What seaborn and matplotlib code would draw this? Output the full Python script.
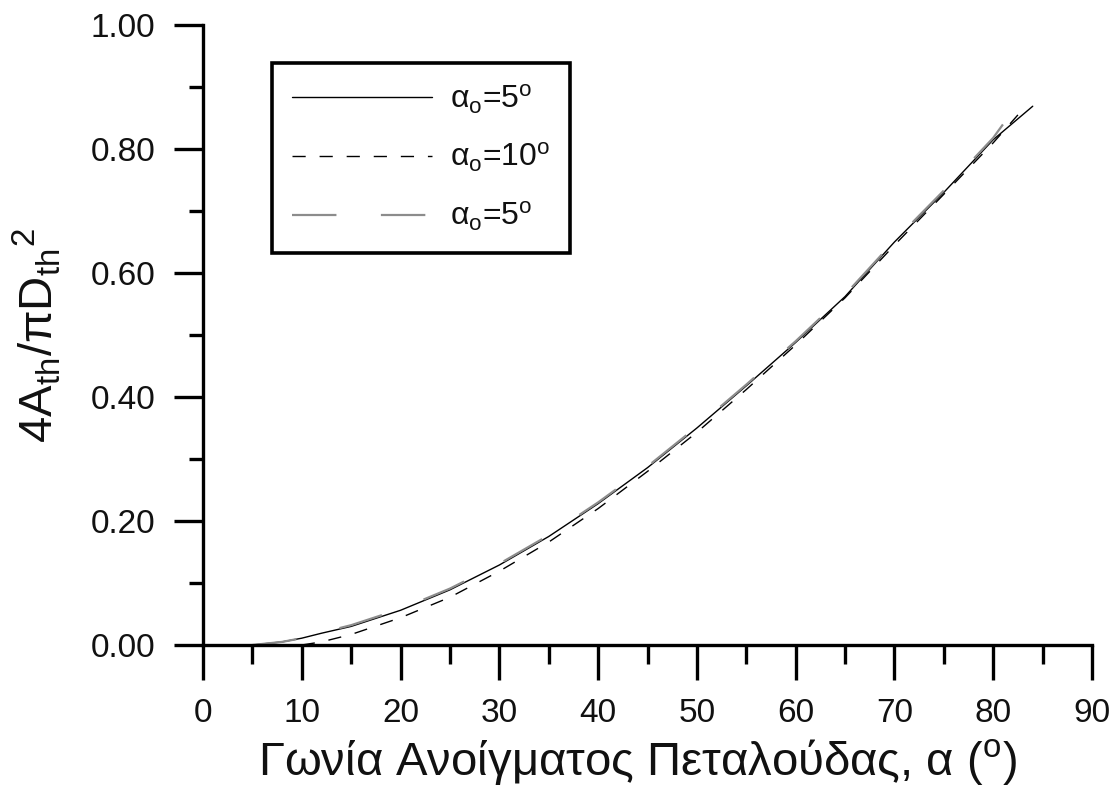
import matplotlib
matplotlib.use("Agg")
import matplotlib.pyplot as plt
from matplotlib.ticker import MultipleLocator, FormatStrFormatter
import seaborn as sns

# Throat area ratio vs. butterfly opening angle
angle_a5 = [5, 8, 10, 12, 15, 20, 25, 30, 35, 40, 45, 50, 55, 60, 65, 70, 75, 80, 84]
ratio_a5 = [0.000, 0.005, 0.011, 0.019, 0.030, 0.056, 0.089, 0.129, 0.175, 0.228,
            0.286, 0.350, 0.418, 0.488, 0.562, 0.650, 0.730, 0.815, 0.869]

angle_a10 = [10, 12, 15, 20, 25, 30, 35, 40, 45, 50, 55, 60, 65, 70, 75, 80, 82.5]
ratio_a10 = [0.000, 0.005, 0.017, 0.044, 0.077, 0.119, 0.166, 0.220, 0.280, 0.343,
             0.412, 0.484, 0.560, 0.645, 0.727, 0.810, 0.855]

angle_a5b = [5, 8, 10, 12, 15, 20, 25, 30, 35, 40, 45, 50, 55, 60, 65, 70, 75, 80, 82]
ratio_a5b = [0.000, 0.005, 0.011, 0.020, 0.032, 0.058, 0.091, 0.131, 0.177, 0.230,
             0.288, 0.352, 0.420, 0.490, 0.565, 0.652, 0.733, 0.818, 0.862]

series_labels = [r"α$_\mathrm{o}$=5$^\mathrm{o}$",
                 r"α$_\mathrm{o}$=10$^\mathrm{o}$",
                 r"α$_\mathrm{o}$=5$^\mathrm{o}$"]

sns.set_theme(style="white")
plt.rcParams["font.family"] = ["Liberation Sans", "DejaVu Sans"]
plt.rcParams["mathtext.fontset"] = "custom"
plt.rcParams["mathtext.rm"] = "Liberation Sans"
plt.rcParams["mathtext.it"] = "Liberation Sans"
plt.rcParams["mathtext.default"] = "regular"
for key in ("text.color", "axes.labelcolor", "xtick.color", "ytick.color"):
    plt.rcParams[key] = "#111111"

fig = plt.figure(figsize=(11.17, 7.92), dpi=100)
ax = fig.add_axes([203 / 1117, 1 - 645 / 792, 889 / 1117, 620 / 792])

sns.lineplot(x=angle_a5, y=ratio_a5, ax=ax, color="black", lw=1.0,
             label=series_labels[0])
sns.lineplot(x=angle_a10, y=ratio_a10, ax=ax, color="black", lw=1.0,
             linestyle=(0, (9.5, 10)), label=series_labels[1])
sns.lineplot(x=angle_a5b, y=ratio_a5b, ax=ax, color="#8c8c8c", lw=1.6,
             linestyle=(0, (20, 20)), label=series_labels[2])

ax.set_xlim(0, 90)
ax.set_ylim(0, 1.0)
ax.xaxis.set_major_locator(MultipleLocator(10))
ax.xaxis.set_minor_locator(MultipleLocator(5))
ax.yaxis.set_major_locator(MultipleLocator(0.2))
ax.yaxis.set_minor_locator(MultipleLocator(0.1))
ax.yaxis.set_major_formatter(FormatStrFormatter("%.2f"))

for side in ("top", "right"):
    ax.spines[side].set_visible(False)
for side in ("left", "bottom"):
    ax.spines[side].set_linewidth(2.4)
    ax.spines[side].set_color("black")

ax.tick_params(axis="x", which="major", direction="out", length=25, width=2.4,
               labelsize=24, pad=13, bottom=True, color="black")
ax.tick_params(axis="x", which="minor", direction="out", length=14, width=2.4,
               bottom=True, color="black")
ax.tick_params(axis="y", which="major", direction="out", length=21, width=2.4,
               labelsize=24, pad=13.5, left=True, color="black")
ax.tick_params(axis="y", which="minor", direction="out", length=10, width=2.4,
               left=True, color="black")

ax.set_xlabel(r"Γωνία Ανοίγματος Πεταλούδας, α ($^\mathrm{o}$)", fontsize=34)
ax.xaxis.set_label_coords(0.4888, -0.148)
ax.set_ylabel(r"4A$_\mathrm{th}$/πD$_\mathrm{th}$$^2$", fontsize=34)
ax.yaxis.set_label_coords(-0.158, 0.5)

leg = ax.legend(loc="upper left", bbox_to_anchor=(0.0776, 0.939), borderaxespad=0,
                fontsize=23, handlelength=4.4, handletextpad=0.56,
                labelspacing=0.8, borderpad=0.62, frameon=True, fancybox=False,
                framealpha=1.0)
leg.get_frame().set_edgecolor("black")
leg.get_frame().set_linewidth(2.6)

fig.savefig("out.png", dpi=100, facecolor="white")
